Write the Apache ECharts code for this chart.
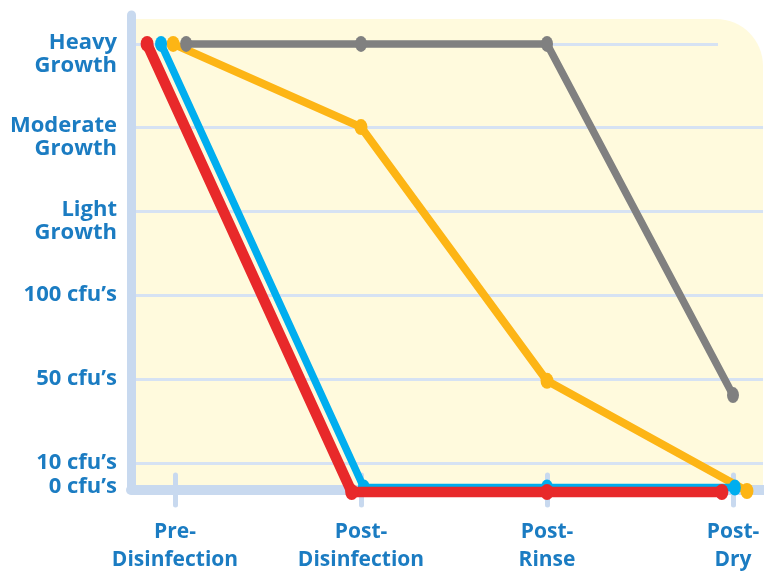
<!DOCTYPE html>
<html><head><meta charset="utf-8">
<script src="https://cdn.jsdelivr.net/npm/echarts@6/dist/echarts.min.js"></script>
<style>html,body{margin:0;padding:0;background:#fff}#c{width:764px;height:572px}</style>
</head><body><div id="c"></div>
<script>
// ---- data ----
const stages = ['Pre-\nDisinfection', 'Post-\nDisinfection', 'Post-\nRinse', 'Post-\nDry'];
const levelLabels = ['0 cfu’s', '10 cfu’s', '50 cfu’s', '100 cfu’s', 'Light\nGrowth', 'Moderate\nGrowth', 'Heavy\nGrowth'];
const levelValues = [0, 0.32, 1.32, 2.32, 3.32, 4.32, 5.31];
const redValues = [5.31, 0, 0, 0];
const blueValues = [5.31, 0, 0, 0];
const orangeValues = [5.31, 4.32, 1.3, 0];
const grayValues = [5.31, 5.31, 5.31, 1.13];

// ---- style / layout ----
const PX_PER_STAGE = 186, AXIS_X = 131, FIRST_X = 175, RIGHT_X = 763;
const AXIS_Y = 490, TOP_Y = 15, PX_PER_LEVEL = 84;
const xMin = -(FIRST_X - AXIS_X) / PX_PER_STAGE;
const xMax = (RIGHT_X - FIRST_X) / PX_PER_STAGE;
const yMax = (AXIS_Y - TOP_Y) / PX_PER_LEVEL;
const xFromPx = px => xMin + (px - AXIS_X) / PX_PER_STAGE;
// small horizontal staggering of markers (in stage units) and baseline shift (in level units)
const styles = [
  { name: 'Orange', values: orangeValues, color: '#fdb515', width: 8, size: [13, 16], xShift: [-0.01, 0, 0, 0.075], baseShift: -0.012 },
  { name: 'Gray', values: grayValues, color: '#808080', width: 7.5, size: [12, 16], xShift: [0.06, 0, 0, 0], baseShift: 0 },
  { name: 'Blue', values: blueValues, color: '#00aeef', width: 7.5, size: [12, 16], xShift: [-0.075, 0.015, 0, 0.01], baseShift: 0.03 },
  { name: 'Red', values: redValues, color: '#e8292a', width: 10.5, size: [13, 16], xShift: [-0.15, -0.05, 0, -0.06], baseShift: -0.024 }
];
const textColor = '#1b7cc2';
const axisColor = '#c8d9ef';
const gridColor = '#d6e2f3';
const font = '"Open Sans", "Noto Sans", sans-serif';

const labelShift = levelLabels.map(t => t.indexOf('\n') >= 0 ? -10 / PX_PER_LEVEL : (t === '0 cfu’s' ? 3 / PX_PER_LEVEL : 0));
const labelPos = levelValues.map((v, i) => v + labelShift[i]);

const gridLines = levelValues.slice(1).map((v, i, arr) => {
  const end = (i === arr.length - 1) ? 718 : RIGHT_X;
  return [{ coord: [xFromPx(136), v] }, { coord: [xFromPx(end), v] }];
});

const series = [{
  type: 'line', data: [], silent: true, z: 1,
  markLine: { silent: true, z: 1, symbol: 'none', animation: false, label: { show: false },
    lineStyle: { color: gridColor, width: 3, type: 'solid' }, data: gridLines }
}];
styles.forEach((s, k) => {
  series.push({
    name: s.name, type: 'line', z: 3 + k, clip: false,
    data: s.values.map((v, i) => [i + s.xShift[i], v === 0 ? v + s.baseShift : v]),
    symbol: 'circle', symbolSize: s.size, showSymbol: true, showAllSymbol: true,
    itemStyle: { color: s.color },
    lineStyle: { color: s.color, width: s.width, cap: 'round', join: 'round' }
  });
});

const chart = echarts.init(document.getElementById('c'), null, { renderer: 'canvas' });
chart.setOption({
  animation: false,
  backgroundColor: '#ffffff',
  grid: { left: AXIS_X, right: 764 - RIGHT_X, top: TOP_Y, bottom: 572 - AXIS_Y, outerBoundsMode: 'none', containLabel: false },
  graphic: [{
    type: 'rect', z: -10, silent: true,
    shape: { x: 136, y: 19, width: RIGHT_X - 136, height: AXIS_Y - 19, r: [0, 47, 0, 0] },
    style: { fill: '#fffadd' }
  }],
  xAxis: [{
    type: 'value', min: xMin, max: xMax, position: 'bottom',
    axisLine: { show: true, onZero: false, lineStyle: { color: axisColor, width: 10, cap: 'round' } },
    axisTick: { show: true, customValues: [0, 1, 2, 3], length: 15, inside: false, lineStyle: { color: axisColor, width: 5, cap: 'round' } },
    splitLine: { show: false },
    axisLabel: { customValues: [0, 1, 2, 3], margin: 28, color: textColor, fontFamily: font, fontWeight: 'bold', fontSize: 21, lineHeight: 28,
      formatter: v => stages[Math.round(v)] }
  }, {
    type: 'value', min: xMin, max: xMax, position: 'bottom',
    axisLine: { show: false, onZero: false },
    axisTick: { show: true, customValues: [0, 1, 2, 3], length: 15, inside: true, lineStyle: { color: axisColor, width: 5, cap: 'round' } },
    splitLine: { show: false }, axisLabel: { show: false }
  }],
  yAxis: {
    type: 'value', min: 0, max: yMax,
    axisLine: { show: true, onZero: false, lineStyle: { color: axisColor, width: 9, cap: 'round' } },
    axisTick: { show: false }, splitLine: { show: false },
    axisLabel: { customValues: labelPos, margin: 14, color: textColor, fontFamily: font, fontWeight: 'bold', fontSize: 22, lineHeight: 23, align: 'right',
      formatter: v => {
        let best = 0, d = Infinity;
        labelPos.forEach((p, i) => { if (Math.abs(p - v) < d) { d = Math.abs(p - v); best = i; } });
        return levelLabels[best];
      } }
  },
  series
});
</script></body></html>
